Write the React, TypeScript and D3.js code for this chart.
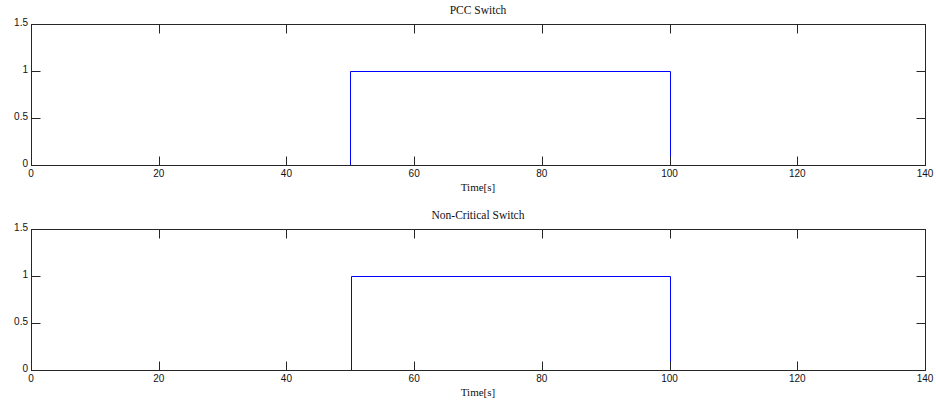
import React from "react";
import * as d3 from "d3";

// Switch state signals (time in seconds, state 0/1)
const pccTime = [0, 50, 50, 100, 100, 140];
const pccState = [0, 0, 1, 1, 0, 0];

const nonCriticalTime = [0, 50.1, 50.1, 100.1, 100.1, 140];
const nonCriticalState = [0, 0, 1, 1, 0, 0];

// short transient at the switch-off instant
const transientTime = [100, 100];
const transientState = [0, 0.1];

const xTicks = [0, 20, 40, 60, 80, 100, 120, 140];
const yTicks = [0, 0.5, 1, 1.5];
const yTickLabels = ["0", "0.5", "1", "1.5"];

const W = 936;
const H = 405;
const LEFT = 31;
const RIGHT = 925;

type Series = { t: number[]; v: number[]; color: string };

function Panel({
  top,
  bottom,
  title,
  series,
}: {
  top: number;
  bottom: number;
  title: string;
  series: Series[];
}) {
  const x = d3.scaleLinear().domain([0, 140]).range([LEFT, RIGHT]);
  const y = d3.scaleLinear().domain([0, 1.5]).range([bottom, top]);
  // half-pixel offset keeps 1px strokes crisp and aligned with the frame
  const line = d3
    .line<[number, number]>()
    .x((d) => Math.round(x(d[0])) + 0.5)
    .y((d) => Math.round(y(d[1])) + 0.5);
  const axisColor = "#262626";
  const tickLen = 9;
  return (
    <g>
      <text
        x={(LEFT + RIGHT) / 2}
        y={top - 13}
        textAnchor="middle"
        dominantBaseline="middle"
        fontFamily="'Liberation Serif', 'Times New Roman', serif"
        fontSize={11.5}
        fill="#111"
      >
        {title}
      </text>
      <clipPath id={`clip-${top}`}>
        <rect x={LEFT} y={top} width={RIGHT - LEFT + 1} height={bottom - top + 1} />
      </clipPath>
      <g clipPath={`url(#clip-${top})`}>
        {series.map((s, i) => (
          <path
            key={i}
            d={line(s.t.map((t, j) => [t, s.v[j]] as [number, number])) || ""}
            fill="none"
            stroke={s.color}
            strokeWidth={1}
          />
        ))}
      </g>
      <rect
        x={LEFT + 0.5}
        y={top + 0.5}
        width={RIGHT - LEFT}
        height={bottom - top}
        fill="none"
        stroke={axisColor}
        strokeWidth={1}
      />
      {xTicks.map((t) => {
        const px = Math.round(x(t)) + 0.5;
        return (
          <g key={`x${t}`}>
            <line x1={px} x2={px} y1={bottom + 0.5} y2={bottom + 0.5 - tickLen} stroke={axisColor} />
            <line x1={px} x2={px} y1={top + 0.5} y2={top + 0.5 + tickLen} stroke={axisColor} />
            <text
              x={x(t)}
              y={bottom + 9}
              textAnchor="middle"
              dominantBaseline="middle"
              fontFamily="'Liberation Sans', Arial, sans-serif"
              fontSize={10}
              fill="#111"
            >
              {t}
            </text>
          </g>
        );
      })}
      {yTicks.map((v, i) => {
        const py = Math.round(y(v)) + 0.5;
        return (
          <g key={`y${v}`}>
            <line x1={LEFT + 0.5} x2={LEFT + 0.5 + tickLen} y1={py} y2={py} stroke={axisColor} />
            <line x1={RIGHT + 0.5} x2={RIGHT + 0.5 - tickLen} y1={py} y2={py} stroke={axisColor} />
            <text
              x={LEFT - 3}
              y={y(v) - 1}
              textAnchor="end"
              dominantBaseline="middle"
              fontFamily="'Liberation Sans', Arial, sans-serif"
              fontSize={10}
              fill="#111"
            >
              {yTickLabels[i]}
            </text>
          </g>
        );
      })}
      <text
        x={(LEFT + RIGHT) / 2}
        y={bottom + 23}
        textAnchor="middle"
        dominantBaseline="middle"
        fontFamily="'Liberation Serif', 'Times New Roman', serif"
        fontSize={11}
        fill="#111"
      >
        Time[s]
      </text>
    </g>
  );
}

export default function App() {
  return (
    <svg
      width={W}
      height={H}
      style={{ position: "absolute", left: 0, top: 0, background: "#fff" }}
    >
      <rect width={W} height={H} fill="#fff" />
      <Panel
        top={24}
        bottom={165}
        title="PCC Switch"
        series={[{ t: pccTime, v: pccState, color: "#0000ff" }]}
      />
      <Panel
        top={229}
        bottom={370}
        title="Non-Critical Switch"
        series={[
          { t: nonCriticalTime, v: nonCriticalState, color: "#0000ff" },
          { t: transientTime, v: transientState, color: "#000080" },
        ]}
      />
    </svg>
  );
}
